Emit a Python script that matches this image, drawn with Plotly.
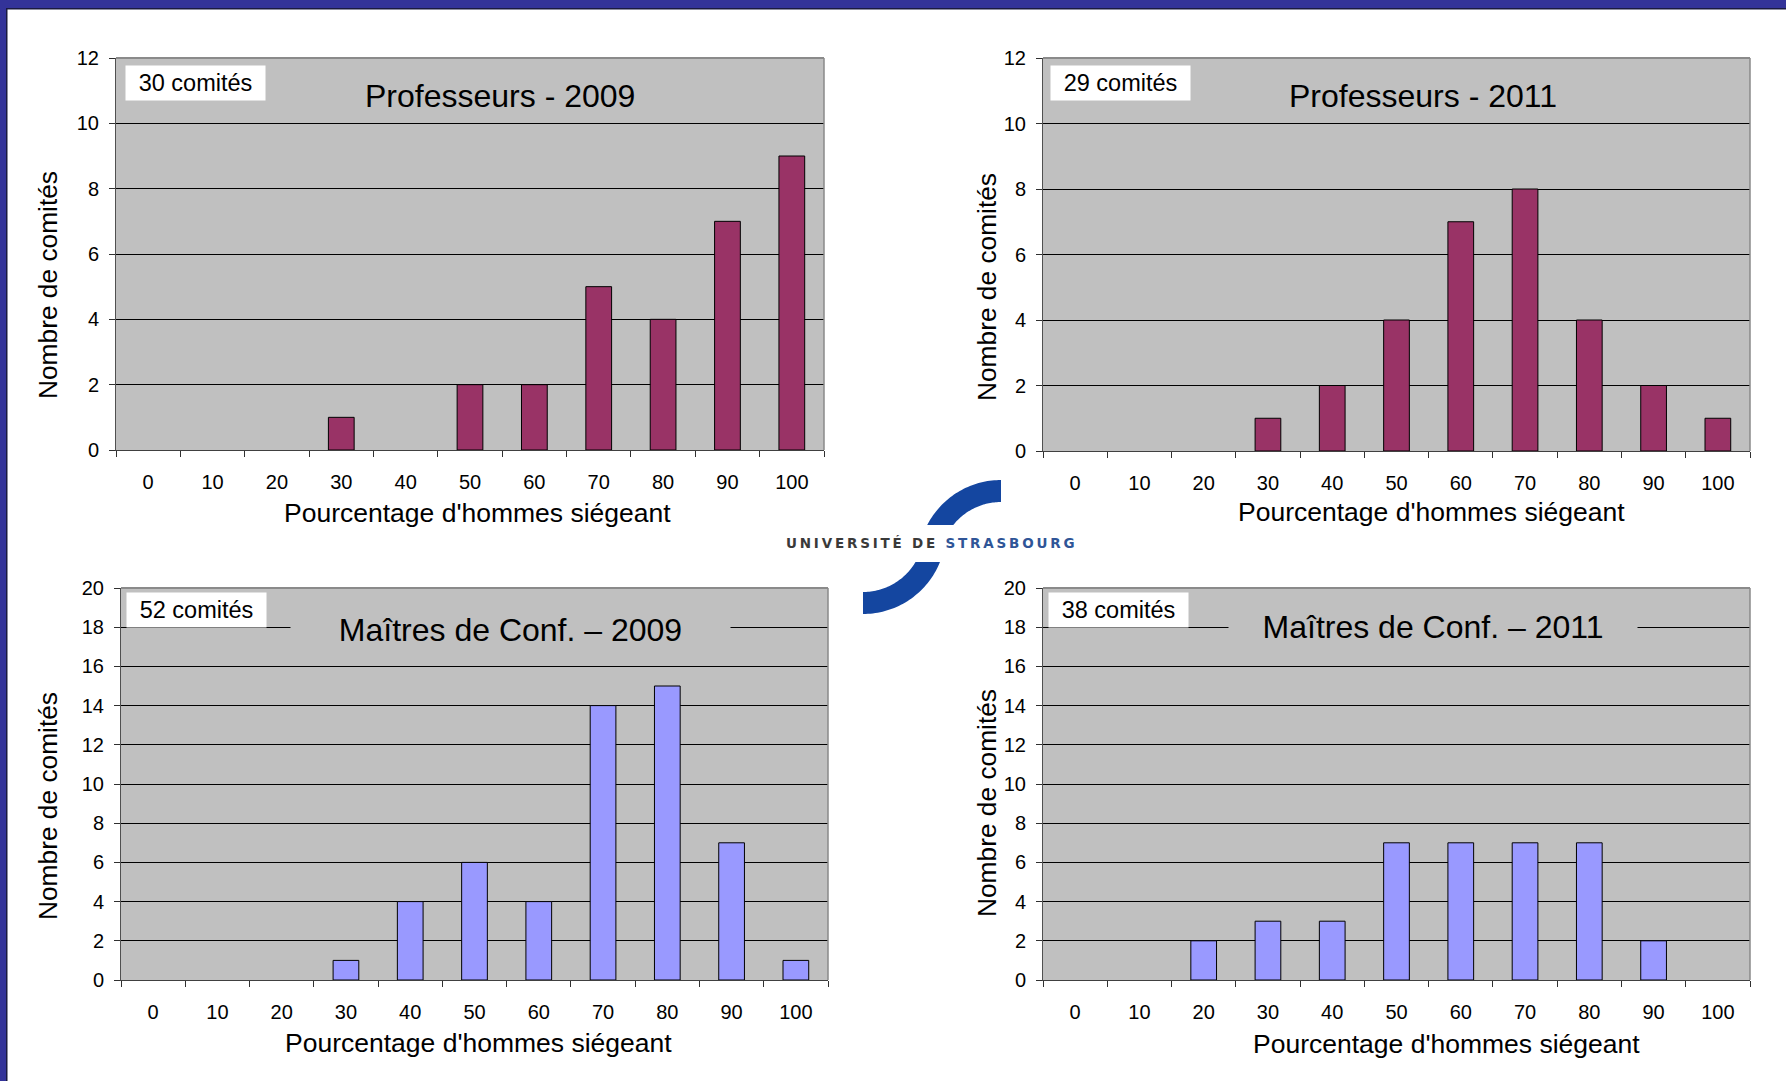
import math
import plotly.graph_objects as go

# ---------------- data ----------------
categories = ["0", "10", "20", "30", "40", "50", "60", "70", "80", "90", "100"]
prof_2009 = [0, 0, 0, 1, 0, 2, 2, 5, 4, 7, 9]
prof_2011 = [0, 0, 0, 1, 2, 4, 7, 8, 4, 2, 1]
mcf_2009 = [0, 0, 0, 1, 4, 6, 4, 14, 15, 7, 1]
mcf_2011 = [0, 0, 2, 3, 3, 7, 7, 7, 7, 2, 0]

titles = ["Professeurs - 2009", "Professeurs - 2011",
          "Maîtres de Conf. – 2009", "Maîtres de Conf. – 2011"]
counts_labels = ["30 comités", "29 comités", "52 comités", "38 comités"]
x_title = "Pourcentage d'hommes siégeant"
y_title = "Nombre de comités"
logo_text_a = "UNIVERSITÉ DE "
logo_text_b = "STRASBOURG"

# ---------------- layout helpers ----------------
W, H = 1786, 1081
FONT = "Liberation Sans, Arial, sans-serif"
PURPLE = "#993366"
LAVENDER = "#9999FF"
PLOT_BG = "#C0C0C0"


def X(px):
    return px / W


def Y(py):
    return 1 - py / H


panels = [
    dict(data=prof_2009, color=PURPLE, ymax=12, box=(116, 58, 824, 450),
         title=(500, 96, None), cnt=(125, 65), xt=(477, 513), yt=(48, 285)),
    dict(data=prof_2011, color=PURPLE, ymax=12, box=(1043, 58, 1750, 451),
         title=(1423, 96, None), cnt=(1050, 65), xt=(1431, 512), yt=(987, 287)),
    dict(data=mcf_2009, color=LAVENDER, ymax=20, box=(121, 588, 828, 980),
         title=(511, 630, 439), cnt=(126, 592), xt=(479, 1043), yt=(48, 806)),
    dict(data=mcf_2011, color=LAVENDER, ymax=20, box=(1043, 588, 1750, 980),
         title=(1433, 627, 408), cnt=(1048, 592), xt=(1446, 1044), yt=(987, 803)),
]

fig = go.Figure()
annotations = []
shapes = []

for i, p in enumerate(panels, start=1):
    sfx = "" if i == 1 else str(i)
    l, t, r, b = p["box"]
    fig.add_trace(go.Bar(
        x=categories, y=p["data"],
        xaxis="x" + sfx, yaxis="y" + sfx,
        marker=dict(color=p["color"],
                    line=dict(color="black",
                              width=[1 if v > 0 else 0 for v in p["data"]])),
        showlegend=False, hoverinfo="x+y",
    ))
    fig.layout["xaxis" + sfx] = dict(
        domain=[X(l), X(r)], anchor="y" + sfx, type="category",
        tickson="boundaries", ticks="outside", ticklen=6, tickcolor="#303030",
        showline=True, linecolor="#404040", linewidth=1,
        showgrid=False, zeroline=False, ticklabelstandoff=14,
        tickfont=dict(family=FONT, size=20, color="black"),
        fixedrange=True, automargin=False,
    )
    fig.layout["yaxis" + sfx] = dict(
        domain=[Y(b), Y(t)], anchor="x" + sfx, range=[0, p["ymax"]],
        dtick=2, ticks="outside", ticklen=6, tickcolor="#303030",
        showline=True, linecolor="#505050", linewidth=1,
        showgrid=True, gridcolor="black", gridwidth=1, zeroline=False,
        ticklabelstandoff=6,
        tickfont=dict(family=FONT, size=20, color="black"),
        fixedrange=True, automargin=False,
    )
    shapes.append(dict(type="rect", xref="paper", yref="paper",
                       x0=X(l), x1=X(r), y0=Y(b), y1=Y(t),
                       fillcolor=PLOT_BG, line=dict(width=0), layer="below"))
    shapes.append(dict(type="line", xref="paper", yref="paper",
                       x0=X(l), x1=X(r), y0=Y(t), y1=Y(t),
                       line=dict(color="#8A8A8A", width=2), layer="above"))
    shapes.append(dict(type="line", xref="paper", yref="paper",
                       x0=X(r), x1=X(r), y0=Y(b), y1=Y(t),
                       line=dict(color="#8A8A8A", width=1.5), layer="above"))

    tx, ty, tw = p["title"]
    ann = dict(xref="paper", yref="paper", x=X(tx), y=Y(ty),
               xanchor="center", yanchor="middle", showarrow=False,
               text=titles[i - 1], font=dict(family=FONT, size=32, color="black"))
    if tw:
        ann.update(bgcolor=PLOT_BG, width=tw, height=30, borderpad=0)
    annotations.append(ann)

    cx, cy = p["cnt"]
    annotations.append(dict(xref="paper", yref="paper", x=X(cx), y=Y(cy),
                            xanchor="left", yanchor="top", showarrow=False,
                            text=counts_labels[i - 1], bgcolor="white",
                            width=139, height=34, borderpad=0, align="center",
                            font=dict(family=FONT, size=23.5, color="black")))
    ax, ay = p["xt"]
    annotations.append(dict(xref="paper", yref="paper", x=X(ax), y=Y(ay),
                            xanchor="center", yanchor="middle", showarrow=False,
                            text=x_title, font=dict(family=FONT, size=26.5, color="black")))
    yx, yy = p["yt"]
    annotations.append(dict(xref="paper", yref="paper", x=X(yx), y=Y(yy),
                            xanchor="center", yanchor="middle", showarrow=False,
                            textangle=-90, text=y_title,
                            font=dict(family=FONT, size=26.3, color="black")))

# ---------------- slide frame ----------------
shapes.append(dict(type="rect", xref="paper", yref="paper",
                   x0=0, x1=1, y0=Y(8), y1=1, fillcolor="#333399",
                   line=dict(width=0), layer="above"))
shapes.append(dict(type="rect", xref="paper", yref="paper",
                   x0=0, x1=1, y0=Y(9.5), y1=Y(8), fillcolor="#1A1A40",
                   line=dict(width=0), layer="above"))
shapes.append(dict(type="rect", xref="paper", yref="paper",
                   x0=0, x1=X(6), y0=0, y1=1, fillcolor="#333399",
                   line=dict(width=0), layer="above"))
shapes.append(dict(type="rect", xref="paper", yref="paper",
                   x0=X(6), x1=X(7.5), y0=0, y1=Y(8), fillcolor="#1A1A40",
                   line=dict(width=0), layer="above"))

# ---------------- logo ----------------
LOGO_BLUE = "#1446A0"


def arc_path(cx, cy, r_out, r_in, a0_out, a1_out, a0_in, a1_in, n=40):
    pts = []
    for k in range(n + 1):
        a = math.radians(a0_out + (a1_out - a0_out) * k / n)
        pts.append((cx + r_out * math.cos(a), cy - r_out * math.sin(a)))
    for k in range(n + 1):
        a = math.radians(a0_in + (a1_in - a0_in) * k / n)
        pts.append((cx + r_in * math.cos(a), cy - r_in * math.sin(a)))
    return "M " + " L ".join(f"{X(x):.5f},{Y(y):.5f}" for x, y in pts) + " Z"


c1 = (1001, 563)
Ro, Ri = 83, 61
ao = 180 - math.degrees(math.asin((c1[1] - 525) / Ro))
ai = 180 - math.degrees(math.asin((c1[1] - 525) / Ri))
shapes.append(dict(type="path", xref="paper", yref="paper",
                   path=arc_path(c1[0], c1[1], Ro, Ri, 90, ao, ai, 90),
                   fillcolor=LOGO_BLUE, line=dict(width=0)))
c2 = (863, 531)
bo = 360 - math.degrees(math.asin((562 - c2[1]) / Ro))
bi = 360 - math.degrees(math.asin((562 - c2[1]) / Ri))
shapes.append(dict(type="path", xref="paper", yref="paper",
                   path=arc_path(c2[0], c2[1], Ro, Ri, 270, bo, bi, 270),
                   fillcolor=LOGO_BLUE, line=dict(width=0)))
annotations.append(dict(xref="paper", yref="paper", x=X(931), y=Y(543),
                        xanchor="center", yanchor="middle", showarrow=False,
                        bgcolor="white", borderpad=2,
                        text=("<span style='letter-spacing:2.8px'><b>"
                              f"<span style='color:#3A3A3A'>{logo_text_a}</span>"
                              f"<span style='color:#2F5597'>{logo_text_b}</span>"
                              "</b></span>"),
                        font=dict(family="DejaVu Sans, sans-serif", size=13.5)))

fig.update_layout(
    width=W, height=H, margin=dict(l=0, r=0, t=0, b=0, autoexpand=False),
    paper_bgcolor="white", plot_bgcolor="rgba(0,0,0,0)",
    bargap=0.6, shapes=shapes, annotations=annotations,
    font=dict(family=FONT),
)

fig.write_html(
    "out.html",
    config={"displayModeBar": False},
    post_script="document.body.style.margin='0';",
)
